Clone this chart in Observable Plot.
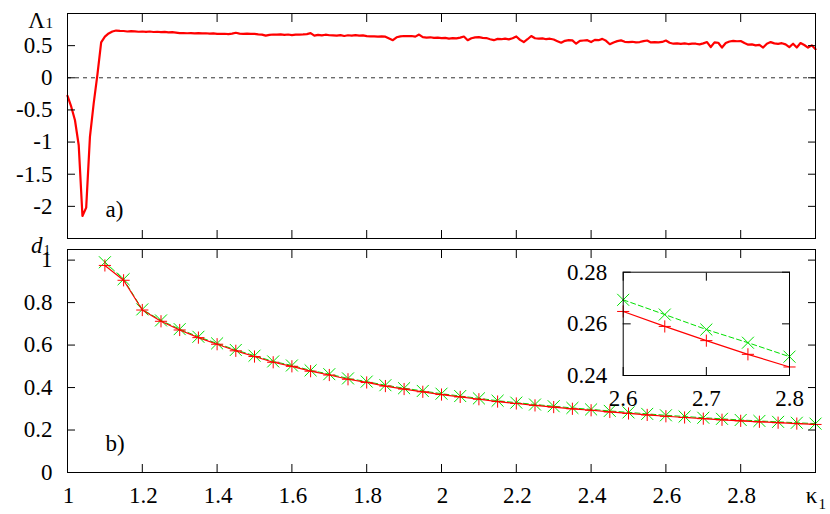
<!DOCTYPE html>
<html><head><meta charset="utf-8">
<script src="https://cdn.jsdelivr.net/npm/d3@7"></script>
<script src="https://cdn.jsdelivr.net/npm/@observablehq/plot@0.6"></script>
<style>
body{margin:0;background:#fff;}
#wrap{position:relative;width:830px;height:514px;}
#wrap svg{position:absolute;overflow:visible;background:transparent;max-width:none;}
#wrap svg, #wrap svg text{font-family:"Liberation Serif","Times New Roman",serif !important;}
</style></head><body><div id="wrap"></div>
<script>
// ---- panel a) data: largest Lyapunov exponent Λ1 vs κ1
const kappaA = [
1.00,1.01,1.02,1.03,1.04,1.05,1.06,1.07,1.08,1.09,
1.10,1.11,1.12,1.13,1.14,1.15,1.16,1.17,1.18,1.19,
1.20,1.21,1.22,1.23,1.24,1.25,1.26,1.27,1.28,1.29,
1.30,1.31,1.32,1.33,1.34,1.35,1.36,1.37,1.38,1.39,
1.40,1.41,1.42,1.43,1.44,1.45,1.46,1.47,1.48,1.49,
1.50,1.51,1.52,1.53,1.54,1.55,1.56,1.57,1.58,1.59,
1.60,1.61,1.62,1.63,1.64,1.65,1.66,1.67,1.68,1.69,
1.70,1.71,1.72,1.73,1.74,1.75,1.76,1.77,1.78,1.79,
1.80,1.81,1.82,1.83,1.84,1.85,1.86,1.87,1.88,1.89,
1.90,1.91,1.92,1.93,1.94,1.95,1.96,1.97,1.98,1.99,
2.00,2.01,2.02,2.03,2.04,2.05,2.06,2.07,2.08,2.09,
2.10,2.11,2.12,2.13,2.14,2.15,2.16,2.17,2.18,2.19,
2.20,2.21,2.22,2.23,2.24,2.25,2.26,2.27,2.28,2.29,
2.30,2.31,2.32,2.33,2.34,2.35,2.36,2.37,2.38,2.39,
2.40,2.41,2.42,2.43,2.44,2.45,2.46,2.47,2.48,2.49,
2.50,2.51,2.52,2.53,2.54,2.55,2.56,2.57,2.58,2.59,
2.60,2.61,2.62,2.63,2.64,2.65,2.66,2.67,2.68,2.69,
2.70,2.71,2.72,2.73,2.74,2.75,2.76,2.77,2.78,2.79,
2.80,2.81,2.82,2.83,2.84,2.85,2.86,2.87,2.88,2.89,
2.90,2.91,2.92,2.93,2.94,2.95,2.96,2.97,2.98,2.99,
3.00];
const lambda1 = [
-0.28,-0.45,-0.66,-1.05,-2.15,-2.02,-0.92,-0.40,0.05,0.55,
0.64,0.69,0.72,0.735,0.73,0.728,0.72,0.725,0.722,0.716,
0.72,0.715,0.72,0.712,0.716,0.71,0.714,0.706,0.71,0.703,
0.694,0.697,0.693,0.696,0.692,0.694,0.69,0.693,0.688,0.69,
0.684,0.682,0.685,0.68,0.686,0.70,0.688,0.684,0.686,0.682,
0.684,0.676,0.672,0.655,0.668,0.673,0.67,0.675,0.668,0.673,
0.664,0.67,0.672,0.674,0.68,0.694,0.655,0.668,0.66,0.67,
0.662,0.66,0.655,0.664,0.65,0.662,0.656,0.663,0.655,0.66,
0.648,0.645,0.645,0.64,0.644,0.64,0.612,0.585,0.63,0.645,
0.65,0.648,0.65,0.64,0.672,0.632,0.625,0.63,0.62,0.625,
0.618,0.622,0.61,0.618,0.612,0.625,0.642,0.585,0.615,0.628,
0.632,0.622,0.618,0.60,0.585,0.605,0.60,0.61,0.598,0.615,
0.643,0.59,0.556,0.60,0.65,0.615,0.608,0.612,0.60,0.608,
0.595,0.57,0.545,0.575,0.585,0.582,0.53,0.575,0.58,0.585,
0.556,0.59,0.585,0.605,0.575,0.522,0.55,0.57,0.582,0.56,
0.554,0.56,0.55,0.556,0.57,0.58,0.55,0.556,0.552,0.558,
0.58,0.545,0.53,0.535,0.528,0.535,0.525,0.532,0.53,0.52,
0.535,0.556,0.478,0.55,0.545,0.47,0.54,0.565,0.575,0.568,
0.572,0.54,0.515,0.52,0.505,0.512,0.47,0.53,0.555,0.535,
0.528,0.538,0.52,0.478,0.53,0.47,0.54,0.51,0.47,0.505,
0.445];

// ---- panel b) data: d1 vs κ1 (two series)
const kappaB = [1.10,1.15,1.20,1.25,1.30,1.35,1.40,1.45,1.50,1.55,1.60,1.65,1.70,1.75,1.80,1.85,1.90,1.95,2.00,2.05,
2.10,2.15,2.20,2.25,2.30,2.35,2.40,2.45,2.50,2.55,2.60,2.65,2.70,2.75,2.80,2.85,2.90,2.95,3.00];
const d1Red = [0.975,0.905,0.765,0.712,0.671,0.635,0.604,0.573,0.546,0.519,0.500,0.477,0.459,0.439,0.424,0.407,0.393,0.380,0.367,0.356,
0.345,0.334,0.325,0.316,0.308,0.300,0.293,0.285,0.278,0.271,0.2648,0.259,0.2535,0.2482,0.2433,0.2388,0.2345,0.2303,0.2263];
const d1Green = [0.990,0.910,0.768,0.716,0.675,0.639,0.608,0.577,0.550,0.523,0.504,0.481,0.463,0.443,0.428,0.411,0.397,0.384,0.371,0.360,
0.349,0.338,0.329,0.320,0.312,0.304,0.297,0.290,0.283,0.276,0.2693,0.2636,0.2578,0.2527,0.2473,0.2428,0.2384,0.2342,0.2301];

// ---- ticks
const xTicks = [1,1.2,1.4,1.6,1.8,2,2.2,2.4,2.6,2.8,3];
const xTickLabels = [1,1.2,1.4,1.6,1.8,2,2.2,2.4,2.6,2.8];
const yTicksA = [-2.5,-2,-1.5,-1,-0.5,0,0.5,1];
const yTickLabelsA = [-2,-1.5,-1,-0.5,0,0.5];
const yTicksB = [0,0.2,0.4,0.6,0.8,1];
const insetXTicks = [2.6,2.7,2.8];
const insetYTicks = [0.24,0.26,0.28];

const FONT = "'Liberation Serif', 'Times New Roman', serif";
const FS = 23;
const RED = "#ff0000", GREEN = "#00e000";
const fmt = d => String(d);

const dataA = kappaA.map((k, i) => ({k, v: lambda1[i]}));
const dataR = kappaB.map((k, i) => ({k, v: d1Red[i]}));
const dataG = kappaB.map((k, i) => ({k, v: d1Green[i]}));
const inRange = d => d.k >= 2.6 - 1e-9 && d.k <= 2.8 + 1e-9;

function inwardTicks(xt, yt) {
  return [
    Plot.axisX(xt, {anchor: "top", tickSize: 8, dy: 8, fill: "none", label: null, stroke: "#000"}),
    Plot.axisX(xt, {anchor: "bottom", tickSize: 8, dy: -8, fill: "none", label: null, stroke: "#000"}),
    Plot.axisY(yt, {anchor: "left", tickSize: 8, dx: 8, fill: "none", label: null, stroke: "#000"}),
    Plot.axisY(yt, {anchor: "right", tickSize: 8, dx: -8, fill: "none", label: null, stroke: "#000"})
  ];
}
const style = {fontFamily: FONT, fontSize: FS + "px", color: "#000", background: "transparent", overflow: "visible"};
const T = {fontFamily: FONT};

const wrap = document.getElementById("wrap");

// ---- top panel a)
const topPlot = Plot.plot({
  width: 830, height: 245, marginLeft: 67, marginRight: 15, marginTop: 13, marginBottom: 7,
  style,
  x: {domain: [1, 3]},
  y: {domain: [-2.5, 1]},
  marks: [
    Plot.ruleY([0], {stroke: "#333", strokeWidth: 1, strokeDasharray: "4,4"}),
    Plot.line(dataA, {x: "k", y: "v", stroke: RED, strokeWidth: 2.2}),
    Plot.frame({stroke: "#000", strokeWidth: 1}),
    ...inwardTicks(xTicks, yTicksA),
    Plot.axisY(yTickLabelsA, {anchor: "left", tickSize: 0, tickPadding: 15, stroke: "none", label: null, tickFormat: fmt, fontSize: FS, ...T}),
    Plot.text(["Λ"], {text: d => d, frameAnchor: "top-left", dx: -31, dy: 14, textAnchor: "middle", lineAnchor: "bottom", fontSize: FS, ...T}),
    Plot.text(["1"], {text: d => d, frameAnchor: "top-left", dx: -22, dy: 14, textAnchor: "start", lineAnchor: "bottom", fontSize: 15, ...T}),
    Plot.text(["a)"], {text: d => d, frameAnchor: "bottom-left", dx: 38, dy: -22, textAnchor: "start", lineAnchor: "bottom", fontSize: FS, ...T})
  ]
});
topPlot.style.left = "0px"; topPlot.style.top = "0px";
wrap.appendChild(topPlot);

// ---- bottom panel b)
const botPlot = Plot.plot({
  width: 830, height: 274, marginLeft: 67, marginRight: 15, marginTop: 9, marginBottom: 42,
  style,
  x: {domain: [1, 3]},
  y: {domain: [0, 1.05]},
  marks: [
    Plot.line(dataG, {x: "k", y: "v", stroke: GREEN, strokeWidth: 1, strokeDasharray: "5,3"}),
    Plot.dot(dataG, {x: "k", y: "v", symbol: "times", r: 5.5, stroke: GREEN, strokeWidth: 1}),
    Plot.line(dataR, {x: "k", y: "v", stroke: RED, strokeWidth: 1.2}),
    Plot.dot(dataR, {x: "k", y: "v", symbol: "plus", r: 4, stroke: RED, strokeWidth: 1}),
    Plot.frame({stroke: "#000", strokeWidth: 1}),
    ...inwardTicks(xTicks, yTicksB),
    Plot.axisY(yTicksB, {anchor: "left", tickSize: 0, tickPadding: 15, stroke: "none", label: null, tickFormat: fmt, fontSize: FS, ...T}),
    Plot.axisX(xTickLabels, {anchor: "bottom", tickSize: 0, tickPadding: 14, stroke: "none", label: null, tickFormat: fmt, fontSize: FS, dx: 1, ...T}),
    Plot.text(["d"], {text: d => d, frameAnchor: "top-left", dx: -25, dy: 3, textAnchor: "end", lineAnchor: "bottom", fontSize: FS, fontStyle: "italic", ...T}),
    Plot.text(["1"], {text: d => d, frameAnchor: "top-left", dx: -24, dy: 5, textAnchor: "start", lineAnchor: "bottom", fontSize: 14, ...T}),
    Plot.text(["κ"], {text: d => d, frameAnchor: "bottom-right", dx: -4, dy: 30, textAnchor: "middle", lineAnchor: "bottom", fontSize: FS, ...T}),
    Plot.text(["1"], {text: d => d, frameAnchor: "bottom-right", dx: 3, dy: 36, textAnchor: "start", lineAnchor: "bottom", fontSize: 15, ...T}),
    Plot.text(["b)"], {text: d => d, frameAnchor: "bottom-left", dx: 38, dy: -22, textAnchor: "start", lineAnchor: "bottom", fontSize: FS, ...T})
  ]
});
botPlot.style.left = "0px"; botPlot.style.top = "240px";
wrap.appendChild(botPlot);

// ---- inset (zoom on 2.6 ≤ κ1 ≤ 2.8)
const insetPlot = Plot.plot({
  width: 240, height: 150, marginLeft: 62.7, marginRight: 11, marginTop: 9.7, marginBottom: 37,
  style,
  x: {domain: [2.6, 2.8]},
  y: {domain: [0.24, 0.28]},
  marks: [
    Plot.frame({fill: "#fff", stroke: "none"}),
    Plot.line(dataG.filter(inRange), {x: "k", y: "v", stroke: GREEN, strokeWidth: 1, strokeDasharray: "5,3"}),
    Plot.dot(dataG.filter(inRange), {x: "k", y: "v", symbol: "times", r: 5.5, stroke: GREEN, strokeWidth: 1}),
    Plot.line(dataR.filter(inRange), {x: "k", y: "v", stroke: RED, strokeWidth: 1.2}),
    Plot.dot(dataR.filter(inRange), {x: "k", y: "v", symbol: "plus", r: 4, stroke: RED, strokeWidth: 1}),
    Plot.frame({stroke: "#000", strokeWidth: 1}),
    ...inwardTicks(insetXTicks, insetYTicks),
    Plot.axisY(insetYTicks, {anchor: "left", tickSize: 0, tickPadding: 16, stroke: "none", label: null, tickFormat: fmt, fontSize: FS, ...T}),
    Plot.axisX(insetXTicks, {anchor: "bottom", tickSize: 0, tickPadding: 14, stroke: "none", label: null, tickFormat: fmt, fontSize: FS, ...T})
  ]
});
insetPlot.style.left = "560px"; insetPlot.style.top = "262px";
wrap.appendChild(insetPlot);
</script></body></html>
